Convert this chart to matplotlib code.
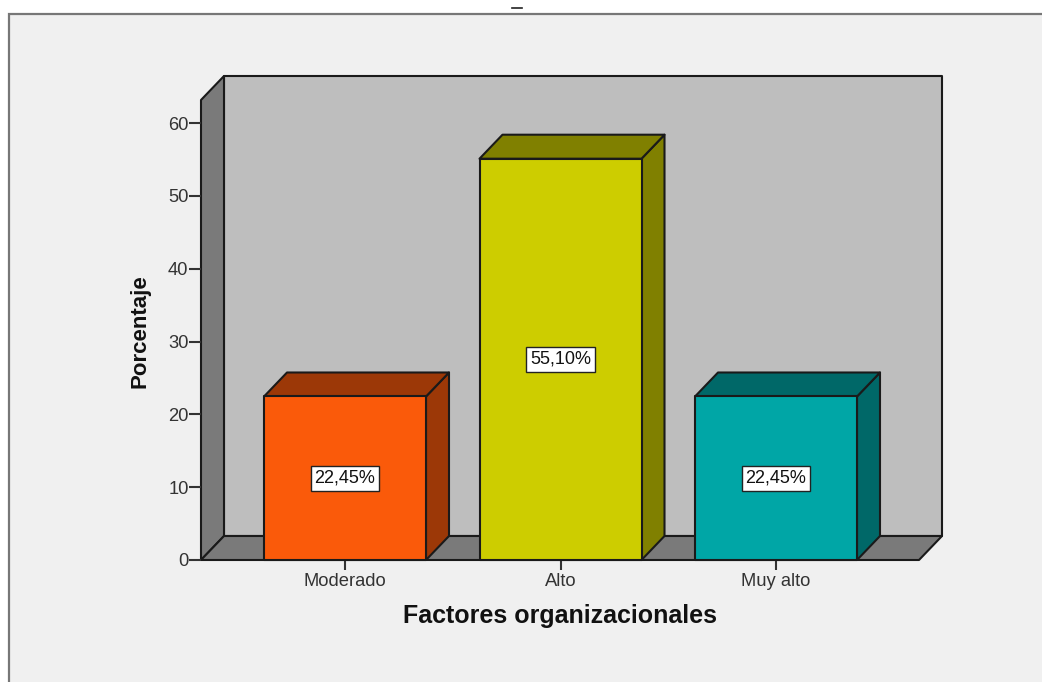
#!/usr/bin/env python3
# -*- coding: utf-8 -*-
"""Bar chart with 3D look, Factores organizacionales"""
import matplotlib

matplotlib.use("Agg")
import matplotlib.pyplot as plt
from matplotlib.lines import Line2D
from matplotlib.patches import Polygon, Rectangle

categories = ["Moderado", "Alto", "Muy alto"]
values = [22.45, 55.10, 22.45]
labels = ["22,45%", "55,10%", "22,45%"]
yticks = [0, 10, 20, 30, 40, 50, 60]
front_colors = ["#fa5a0a", "#cdcd00", "#00a6a6"]
side_colors = ["#9c3807", "#808000", "#006868"]

W, H = 1042, 682
EDGE = "#1a1a1a"
TEXT = "#333333"

plt.rcParams["font.family"] = ["Liberation Sans", "DejaVu Sans"]

fig = plt.figure(figsize=(W / 100, H / 100), dpi=100, facecolor="white")

# grey panel, open to the right and the bottom
fig.add_artist(Rectangle((9 / W, -0.01), 1.1, 1 - 14 / H + 0.01, transform=fig.transFigure,
                         facecolor="#f0f0f0", edgecolor="#777777", linewidth=1.6, zorder=-2))
# what is left of the cut off title
fig.add_artist(Line2D([512 / W, 522 / W], [1 - 7.5 / H] * 2, color="#222222", linewidth=1.2, zorder=-1))

# front plane of the box: x 201-919, y 100-560 in pixels
px_x = 215.5
px_y = 7.283
ax = fig.add_axes([201 / W, 1 - 560 / H, 718 / W, 460 / H])
ax.set_xlim(-144 / px_x, 2 + 143 / px_x)
ax.set_ylim(0, 460 / px_y)
ax.patch.set_visible(False)
for s in ax.spines.values():
    s.set_visible(False)

dx = 23 / px_x
dy = 24 / px_y
x0, x1 = ax.get_xlim()
y0, y1 = ax.get_ylim()


def poly(pts, color, z=1, lw=1.5):
    ax.add_patch(Polygon(pts, closed=True, facecolor=color, edgecolor=EDGE, linewidth=lw,
                         zorder=z, clip_on=False, joinstyle="round"))


# back wall, left wall and floor
poly([(x0 + dx, y0 + dy), (x1 + dx, y0 + dy), (x1 + dx, y1 + dy), (x0 + dx, y1 + dy)], "#bebebe")
poly([(x0, y0), (x0 + dx, y0 + dy), (x0 + dx, y1 + dy), (x0, y1)], "#7a7a7a")
poly([(x0, y0), (x1, y0), (x1 + dx, y0 + dy), (x0 + dx, y0 + dy)], "#7a7a7a")

bw = 162 / px_x
for i, v in enumerate(values):
    l, r = i - bw / 2, i + bw / 2
    poly([(r, 0), (r + dx, dy), (r + dx, v + dy), (r, v)], side_colors[i], z=3)
    poly([(l, v), (r, v), (r + dx, v + dy), (l + dx, v + dy)], side_colors[i], z=3)
    poly([(l, 0), (r, 0), (r, v), (l, v)], front_colors[i], z=4)
    ax.text(i, v / 2, labels[i], ha="center", va="center", fontsize=13, color="#111111", zorder=5,
            bbox=dict(boxstyle="square,pad=0.22", facecolor="white", edgecolor="#222222", linewidth=1.0))

ax.set_xticks(range(len(categories)))
ax.set_xticklabels(categories)
ax.set_yticks(yticks)
ax.tick_params(axis="y", colors=TEXT, labelsize=13.2, length=8.5, width=1.5, pad=0.5)
ax.tick_params(axis="x", colors=TEXT, labelsize=13.2, length=7, width=1.5, pad=2)

fig.text(560 / W, 1 - 615.5 / H, "Factores organizacionales", ha="center", va="center",
         fontsize=18, fontweight="bold", color="#111111")
fig.text(140 / W, 1 - 331 / H, "Porcentaje", ha="center", va="center", rotation=90,
         fontsize=16, fontweight="bold", color="#111111")

fig.savefig("out.png", dpi=100, facecolor="white")
